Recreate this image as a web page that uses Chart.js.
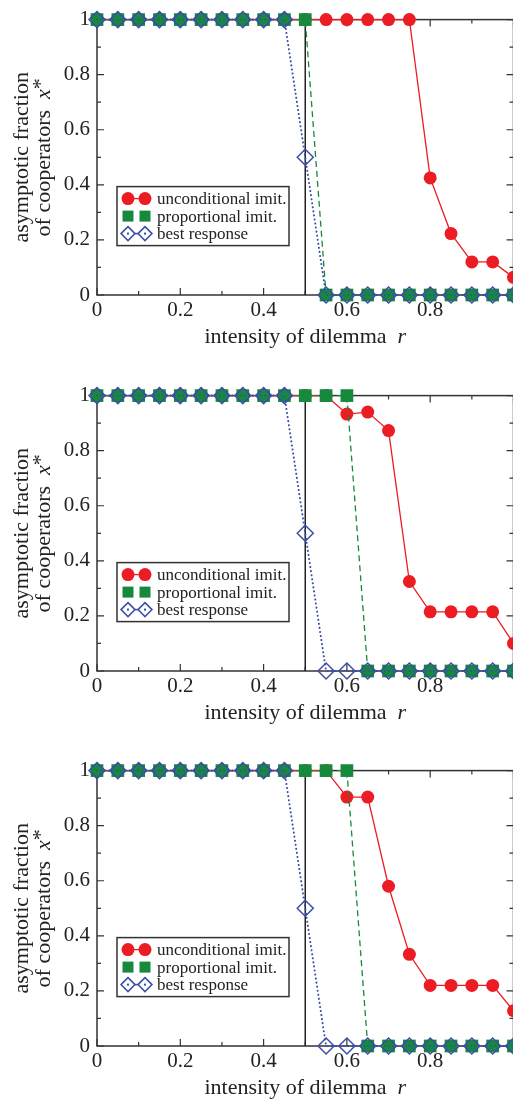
<!DOCTYPE html>
<html>
<head>
<meta charset="utf-8">
<title>Asymptotic fraction of cooperators</title>
<script src="https://cdn.jsdelivr.net/npm/chart.js@4.4.1/dist/chart.umd.min.js"></script>
<style>
    body { margin: 0; background: #fff; overflow: hidden; width: 513px; height: 1103px; position: relative; }
    .panel { position: absolute; left: 0; width: 513px; height: 375px; overflow: hidden; }
    .panel canvas { display: block; }
</style>
</head>
<body>
<div class="panel" style="top:0px"><canvas id="chart1" width="540" height="375"></canvas></div>
<div class="panel" style="top:376px"><canvas id="chart2" width="540" height="375"></canvas></div>
<div class="panel" style="top:751px"><canvas id="chart3" width="540" height="375"></canvas></div>

<script>
// ---- data ----
const rValues = [0, 0.05, 0.1, 0.15, 0.2, 0.25, 0.3, 0.35, 0.4, 0.45, 0.5,
                 0.55, 0.6, 0.65, 0.7, 0.75, 0.8, 0.85, 0.9, 0.95, 1];

// panel 1
const uncond1 = [1, 1, 1, 1, 1, 1, 1, 1, 1, 1, 1, 1, 1, 1, 1, 1, 0.425, 0.223, 0.12, 0.12, 0.064];
const prop1   = [1, 1, 1, 1, 1, 1, 1, 1, 1, 1, 1, 0, 0, 0, 0, 0, 0, 0, 0, 0, 0];
const best1   = [1, 1, 1, 1, 1, 1, 1, 1, 1, 1, 0.5, 0, 0, 0, 0, 0, 0, 0, 0, 0, 0];

// panel 2
const uncond2 = [1, 1, 1, 1, 1, 1, 1, 1, 1, 1, 1, 1, 0.933, 0.94, 0.873, 0.325, 0.215, 0.215, 0.215, 0.215, 0.1];
const prop2   = [1, 1, 1, 1, 1, 1, 1, 1, 1, 1, 1, 1, 1, 0, 0, 0, 0, 0, 0, 0, 0];
const best2   = [1, 1, 1, 1, 1, 1, 1, 1, 1, 1, 0.5, 0, 0, 0, 0, 0, 0, 0, 0, 0, 0];

// panel 3
const uncond3 = [1, 1, 1, 1, 1, 1, 1, 1, 1, 1, 1, 1, 0.904, 0.904, 0.58, 0.333, 0.22, 0.22, 0.22, 0.22, 0.128];
const prop3   = [1, 1, 1, 1, 1, 1, 1, 1, 1, 1, 1, 1, 1, 0, 0, 0, 0, 0, 0, 0, 0];
const best3   = [1, 1, 1, 1, 1, 1, 1, 1, 1, 1, 0.5, 0, 0, 0, 0, 0, 0, 0, 0, 0, 0];

const thresholdR = 0.5;

const xTickValues = [0, 0.2, 0.4, 0.6, 0.8, 1];
const xTickLabels = ['0', '0.2', '0.4', '0.6', '0.8', ''];
const yTickValues = [0, 0.2, 0.4, 0.6, 0.8, 1];
const yTickLabels = ['0', '0.2', '0.4', '0.6', '0.8', '1'];
const minorTickValues = [0.1, 0.3, 0.5, 0.7, 0.9];

const seriesNames = ['unconditional imit.', 'proportional imit.', 'best response'];

// ---- styles ----
const RED = '#ec1c24';
const GREEN = '#17893d';
const BLUE = '#3a4ea8';
const INK = '#222';
const FRAME = '#333';
const SERIF = '"Liberation Serif", "DejaVu Serif", serif';

function toPoints(ys) {
    return rValues.map((r, i) => ({ x: r, y: ys[i] }));
}

// frame, inward ticks, axis titles and legend box
const figurePlugin = {
    id: 'figure',
    beforeDatasetsDraw(chart) {
        const ctx = chart.ctx;
        const a = chart.chartArea;
        const sx = chart.scales.x, sy = chart.scales.y;
        ctx.save();
        ctx.strokeStyle = FRAME;
        ctx.lineWidth = 1.5;
        ctx.strokeRect(a.left, a.top, a.right - a.left, a.bottom - a.top);

        ctx.lineWidth = 1.2;
        ctx.beginPath();
        const tick = (v, len) => {
            const px = sx.getPixelForValue(v);
            const py = sy.getPixelForValue(v);
            ctx.moveTo(px, a.bottom); ctx.lineTo(px, a.bottom - len);
            ctx.moveTo(px, a.top); ctx.lineTo(px, a.top + len);
            ctx.moveTo(a.left, py); ctx.lineTo(a.left + len, py);
            ctx.moveTo(a.right, py); ctx.lineTo(a.right - len, py);
        };
        xTickValues.forEach(v => tick(v, 7));
        minorTickValues.forEach(v => tick(v, 4));
        ctx.stroke();
        ctx.restore();
    },
    afterDatasetsDraw(chart) {
        const ctx = chart.ctx;
        const a = chart.chartArea;

        // legend
        const bx = a.left + 20, by = a.top + 167, bw = 172, bh = 59;
        ctx.save();
        ctx.fillStyle = '#fff';
        ctx.fillRect(bx, by, bw, bh);
        ctx.strokeStyle = FRAME;
        ctx.lineWidth = 1.5;
        ctx.strokeRect(bx, by, bw, bh);

        const m1 = bx + 11, m2 = bx + 28;
        const rows = [by + 12, by + 29.5, by + 47];

        // red circles
        ctx.strokeStyle = RED; ctx.lineWidth = 1.3;
        ctx.beginPath(); ctx.moveTo(m1, rows[0]); ctx.lineTo(m2, rows[0]); ctx.stroke();
        ctx.fillStyle = RED;
        [m1, m2].forEach(mx => { ctx.beginPath(); ctx.arc(mx, rows[0], 6.5, 0, Math.PI * 2); ctx.fill(); });

        // green squares
        ctx.fillStyle = GREEN;
        [m1, m2].forEach(mx => ctx.fillRect(mx - 5.5, rows[1] - 5.5, 11, 11));

        // blue diamonds
        ctx.strokeStyle = BLUE; ctx.lineWidth = 1.5;
        ctx.beginPath(); ctx.moveTo(m1 + 6.5, rows[2]); ctx.lineTo(m2 - 6.5, rows[2]); ctx.stroke();
        [m1, m2].forEach(mx => {
            ctx.beginPath();
            ctx.moveTo(mx, rows[2] - 7); ctx.lineTo(mx + 7, rows[2]);
            ctx.lineTo(mx, rows[2] + 7); ctx.lineTo(mx - 7, rows[2]); ctx.closePath();
            ctx.stroke();
            ctx.fillStyle = BLUE;
            ctx.fillRect(mx - 1, rows[2] - 1, 2, 2);
        });

        ctx.fillStyle = INK;
        ctx.font = '17px ' + SERIF;
        ctx.textAlign = 'left';
        ctx.textBaseline = 'middle';
        seriesNames.forEach((name, i) => ctx.fillText(name, bx + 40, rows[i] + 1));
        ctx.restore();
    },
    afterDraw(chart) {
        const ctx = chart.ctx;
        const a = chart.chartArea;
        const plain = '22px ' + SERIF;
        const ital = 'italic 22px ' + SERIF;
        ctx.save();
        ctx.fillStyle = INK;
        ctx.textBaseline = 'alphabetic';

        // x title with italic r
        const xt = 'intensity of dilemma  ';
        ctx.font = plain;
        const w1 = ctx.measureText(xt).width;
        ctx.font = ital;
        const w2 = ctx.measureText('r').width;
        let sx = (a.left + a.right) / 2 - (w1 + w2) / 2;
        ctx.textAlign = 'left';
        ctx.font = plain; ctx.fillText(xt, sx, 343);
        ctx.font = ital; ctx.fillText('r', sx + w1, 343);

        // y title, two rotated lines
        const cy = (a.top + a.bottom) / 2;
        ctx.save();
        ctx.translate(28, cy);
        ctx.rotate(-Math.PI / 2);
        ctx.font = plain;
        ctx.textAlign = 'center';
        ctx.fillText('asymptotic fraction', 0, 0);
        ctx.restore();

        ctx.save();
        ctx.translate(50, cy);
        ctx.rotate(-Math.PI / 2);
        const l2 = 'of cooperators  ';
        ctx.font = plain;
        const lw = ctx.measureText(l2).width;
        ctx.font = ital;
        const xw = ctx.measureText('x').width;
        ctx.font = plain;
        const sw = ctx.measureText('*').width;
        const start = -(lw + xw + sw) / 2;
        ctx.textAlign = 'left';
        ctx.fillText(l2, start, 0);
        ctx.font = ital; ctx.fillText('x', start + lw, 0);
        ctx.font = plain; ctx.fillText('*', start + lw + xw, -3);
        ctx.restore();

        ctx.restore();
    }
};

function buildPanel(canvasId, uncond, prop, best) {
    const canvas = document.getElementById(canvasId);
    const existing = Chart.getChart(canvasId);
    if (existing) existing.destroy();

    new Chart(canvas, {
        type: 'line',
        data: {
            datasets: [
                {
                    label: seriesNames[2],
                    data: toPoints(best),
                    borderColor: BLUE,
                    borderWidth: 2,
                    borderDash: [0.1, 4],
                    borderCapStyle: 'round',
                    pointStyle: 'rectRot',
                    pointRadius: 8,
                    pointBackgroundColor: 'rgba(0,0,0,0)',
                    pointBorderColor: BLUE,
                    pointBorderWidth: 1.5,
                    clip: false,
                    order: 0
                },
                {
                    label: seriesNames[1],
                    data: toPoints(prop),
                    borderColor: GREEN,
                    borderWidth: 1.3,
                    borderDash: [6, 4],
                    pointStyle: 'rect',
                    pointRadius: 9,
                    pointBackgroundColor: GREEN,
                    pointBorderColor: GREEN,
                    pointBorderWidth: 0,
                    clip: false,
                    order: 1
                },
                {
                    label: seriesNames[0],
                    data: toPoints(uncond),
                    borderColor: RED,
                    borderWidth: 1.3,
                    pointStyle: 'circle',
                    pointRadius: 6.5,
                    pointBackgroundColor: RED,
                    pointBorderColor: RED,
                    pointBorderWidth: 0,
                    clip: false,
                    order: 2
                },
                {
                    label: 'threshold',
                    data: [{ x: thresholdR, y: 0 }, { x: thresholdR, y: 1 }],
                    borderColor: INK,
                    borderWidth: 1.5,
                    pointRadius: 0,
                    order: 3
                }
            ]
        },
        options: {
            responsive: false,
            animation: false,
            events: [],
            layout: {
                padding: { top: 13, right: 26.5, bottom: 0, left: 0 }
            },
            plugins: {
                legend: { display: false },
                tooltip: { enabled: false }
            },
            elements: {
                line: { tension: 0 }
            },
            scales: {
                x: {
                    type: 'linear',
                    min: 0,
                    max: 1,
                    afterBuildTicks: s => { s.ticks = xTickValues.map(v => ({ value: v })); },
                    afterFit: s => { s.height = 80; },
                    grid: { display: false, drawTicks: false },
                    border: { display: false },
                    ticks: {
                        autoSkip: false,
                        maxRotation: 0,
                        padding: 3,
                        color: INK,
                        font: { family: SERIF, size: 21 },
                        callback: (v, i) => xTickLabels[i]
                    }
                },
                y: {
                    type: 'linear',
                    min: 0,
                    max: 1,
                    afterBuildTicks: s => { s.ticks = yTickValues.map(v => ({ value: v })); },
                    afterFit: s => { s.width = 97; },
                    grid: { display: false, drawTicks: false },
                    border: { display: false },
                    ticks: {
                        autoSkip: false,
                        padding: 7,
                        color: INK,
                        font: { family: SERIF, size: 21 },
                        callback: (v, i) => yTickLabels[i]
                    }
                }
            }
        },
        plugins: [figurePlugin]
    });
}

buildPanel('chart1', uncond1, prop1, best1);
buildPanel('chart2', uncond2, prop2, best2);
buildPanel('chart3', uncond3, prop3, best3);
</script>
</body>
</html>
